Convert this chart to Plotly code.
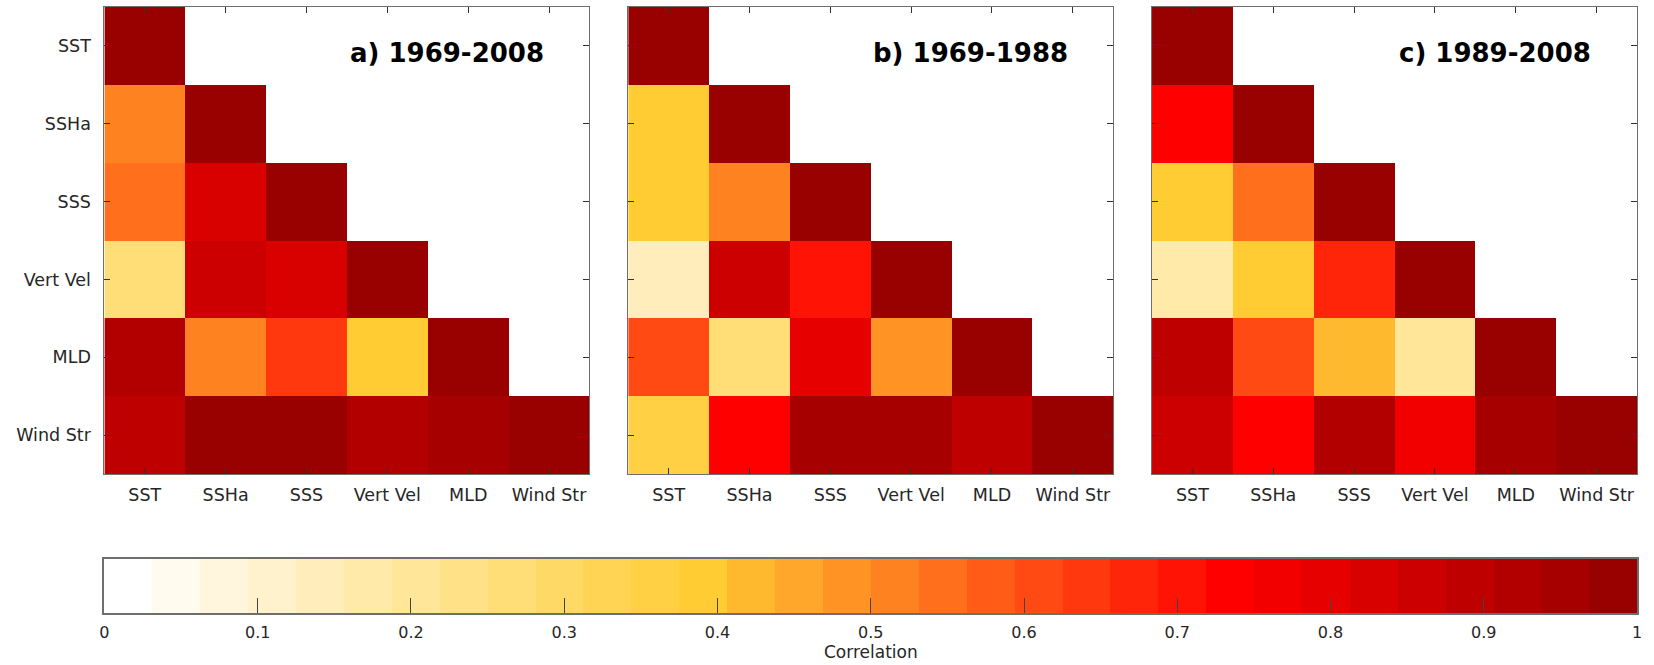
import numpy as np
import plotly.graph_objects as go

# Variables on both axes of each correlation matrix
variables = ["SST", "SSHa", "SSS", "Vert Vel", "MLD", "Wind Str"]

# Lower-triangle correlations (row i, columns 0..i)
corr_1969_2008 = [
    [1.00],
    [0.50, 1.00],
    [0.55, 0.83, 1.00],
    [0.27, 0.86, 0.82, 1.00],
    [0.92, 0.51, 0.64, 0.39, 1.00],
    [0.89, 0.98, 0.98, 0.92, 0.95, 1.00],
]
corr_1969_1988 = [
    [1.00],
    [0.39, 1.00],
    [0.39, 0.50, 1.00],
    [0.14, 0.86, 0.70, 1.00],
    [0.61, 0.27, 0.79, 0.48, 1.00],
    [0.36, 0.73, 0.95, 0.95, 0.89, 1.00],
]
corr_1989_2008 = [
    [1.00],
    [0.73, 1.00],
    [0.39, 0.55, 1.00],
    [0.17, 0.38, 0.67, 1.00],
    [0.89, 0.61, 0.42, 0.20, 1.00],
    [0.87, 0.74, 0.92, 0.76, 0.94, 1.00],
]
panel_titles = ["a) 1969-2008", "b) 1969-1988", "c) 1989-2008"]
panels = [corr_1969_2008, corr_1969_1988, corr_1989_2008]

cbar_ticks = [0, 0.1, 0.2, 0.3, 0.4, 0.5, 0.6, 0.7, 0.8, 0.9, 1.0]
cbar_ticktext = ["0", "0.1", "0.2", "0.3", "0.4", "0.5", "0.6", "0.7", "0.8", "0.9", "1"]

# ---- discrete 32-level white -> gold -> red -> dark red colormap ----
N_LEVELS = 32
anchors = [(0, (255, 255, 255)), (12, (255, 204, 51)), (23, (255, 0, 0)), (31, (153, 0, 0))]


def level_color(k):
    for (k0, c0), (k1, c1) in zip(anchors[:-1], anchors[1:]):
        if k0 <= k <= k1:
            t = (k - k0) / (k1 - k0)
            r, g, b = (round(a + (b_ - a) * t) for a, b_ in zip(c0, c1))
            return f"rgb({r},{g},{b})"
    return "rgb(153,0,0)"


colorscale = []
for k in range(N_LEVELS):
    c = level_color(k)
    colorscale.append([k / N_LEVELS, c])
    colorscale.append([(k + 1) / N_LEVELS, c])

# ---- geometry (pixels) ----
W, H = 1654, 665
panel_x = [(100, 588), (627, 1115), (1154, 1642)]
panel_y = (7, 474)
cbar_x = (100, 1642)
cbar_y = (559, 613)


def px(x):
    return x / W


def py(y):
    return 1 - y / H


FONT = "DejaVu Sans"
TXT = "#262626"
FRAME = "#6e6e6e"
LABEL_SIZE = 17.5

fig = go.Figure()

n = len(variables)
for p, (tri, title) in enumerate(zip(panels, panel_titles)):
    z = [[(tri[i][j] if j <= i else None) for j in range(n)] for i in range(n)]
    ax = "" if p == 0 else str(p + 1)
    fig.add_trace(go.Heatmap(
        z=z, x=list(range(n)), y=list(range(n)),
        colorscale=colorscale, zmin=0, zmax=1, showscale=False,
        xaxis="x" + ax, yaxis="y" + ax, hoverongaps=False,
    ))
    x0, x1 = panel_x[p]
    common = dict(showline=True, linecolor=FRAME, linewidth=1, mirror="ticks",
                  ticks="inside", ticklen=6, tickcolor="#333333", tickwidth=1,
                  showgrid=False, zeroline=False, fixedrange=True,
                  tickfont=dict(family=FONT, size=LABEL_SIZE, color=TXT))
    fig.layout["xaxis" + ax] = dict(
        domain=[px(x0), px(x1)], anchor="y" + ax, range=[-0.5, n - 0.5],
        tickvals=list(range(n)), ticktext=variables, ticklabelstandoff=5, **common)
    fig.layout["yaxis" + ax] = dict(
        domain=[py(panel_y[1]), py(panel_y[0])], anchor="x" + ax, range=[n - 0.5, -0.5],
        tickvals=list(range(n)), ticktext=variables if p == 0 else [""] * n,
        ticklabelstandoff=9, **common)
    fig.add_annotation(
        text=f"<b>{title}</b>", xref="paper", yref="paper",
        x=px(x1 - 44), y=py(53), xanchor="right", yanchor="middle",
        showarrow=False, font=dict(family=FONT, size=26, color="#000000"))

# ---- colorbar drawn as its own axis ----
edges = np.linspace(0, 1, N_LEVELS + 1)
centers = (edges[:-1] + edges[1:]) / 2
fig.add_trace(go.Heatmap(
    z=[centers], x=edges, y=[0, 1], colorscale=colorscale, zmin=0, zmax=1,
    showscale=False, xaxis="x4", yaxis="y4", hoverinfo="skip"))
fig.layout["xaxis4"] = dict(
    domain=[px(cbar_x[0]), px(cbar_x[1])], anchor="y4", range=[0, 1],
    tickvals=cbar_ticks, ticktext=cbar_ticktext, ticks="inside", ticklen=15,
    tickcolor="#444444", tickwidth=1, showline=True, linecolor=FRAME, linewidth=1.5,
    mirror=True, showgrid=False, zeroline=False, fixedrange=True,
    ticklabelstandoff=4, tickfont=dict(family=FONT, size=16, color=TXT))
fig.layout["yaxis4"] = dict(
    domain=[py(cbar_y[1]), py(cbar_y[0])], anchor="x4", range=[0, 1],
    showticklabels=False, ticks="", showline=True, linecolor=FRAME, linewidth=1.5,
    mirror=True, showgrid=False, zeroline=False, fixedrange=True)
fig.add_annotation(
    text="Correlation", xref="paper", yref="paper",
    x=px((cbar_x[0] + cbar_x[1]) / 2), y=py(652), xanchor="center", yanchor="middle",
    showarrow=False, font=dict(family=FONT, size=17, color=TXT))

fig.update_layout(
    width=W, height=H, margin=dict(l=0, r=0, t=0, b=0),
    paper_bgcolor="white", plot_bgcolor="white", showlegend=False,
)

fig.write_html("out.html")
